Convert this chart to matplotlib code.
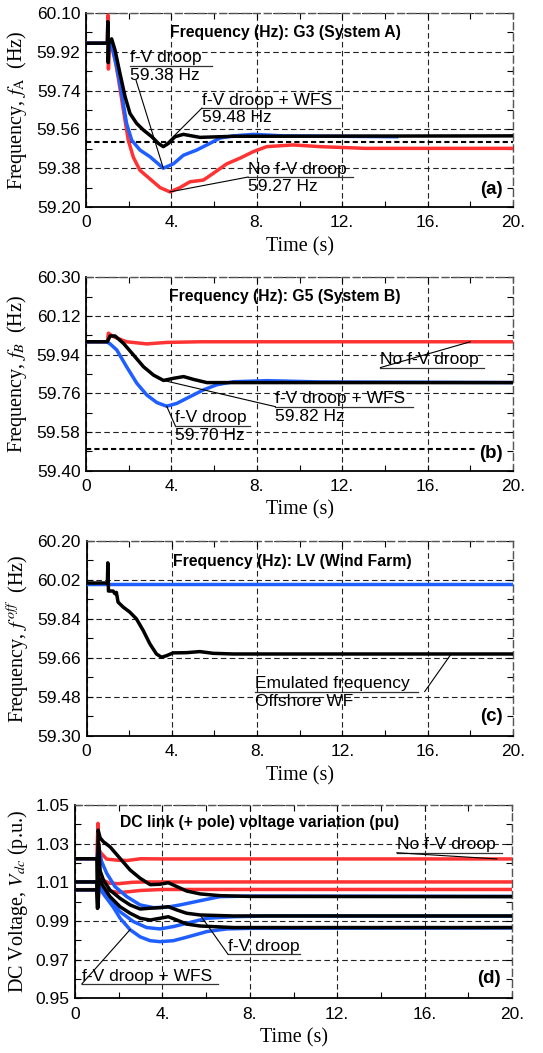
import numpy as np
import matplotlib
matplotlib.use("Agg")
import matplotlib.pyplot as plt
from matplotlib.ticker import FixedLocator, MultipleLocator, FuncFormatter

plt.rcParams['font.family'] = ['Liberation Sans', 'DejaVu Sans']
plt.rcParams['mathtext.fontset'] = 'stix'

RED = '#ff3333'
BLUE = '#1f5fff'
BLACK = '#000000'

# ---------------- (a) G3, System A ----------------
a_yticks = [59.20, 59.38, 59.56, 59.74, 59.92, 60.10]
a_limit = 59.50
a_red_t = [0, 1.0, 1.03, 1.05, 1.1, 1.28, 1.51, 1.75, 1.98, 2.22, 2.53, 3.0, 3.47, 3.93,
           4.4, 4.87, 5.5, 5.96, 6.59, 7.2, 7.84, 8.46, 9.7, 10.96, 13.1, 20.0]
a_red_f = [59.96, 59.96, 60.09, 59.84, 59.95, 59.93, 59.80, 59.65, 59.51, 59.43, 59.37, 59.33,
           59.29, 59.27, 59.29, 59.317, 59.325, 59.356, 59.40, 59.426, 59.457, 59.48, 59.488,
           59.48, 59.472, 59.472]
a_blue_t = [0, 1.16, 1.44, 1.67, 1.9, 2.14, 2.53, 3.0, 3.62, 4.09, 4.56, 5.18, 5.8, 6.28,
            6.9, 7.84, 9.24, 14.55]
a_blue_f = [59.96, 59.96, 59.85, 59.727, 59.588, 59.51, 59.464, 59.433, 59.38, 59.40, 59.44,
            59.464, 59.495, 59.52, 59.53, 59.537, 59.53, 59.526]
a_black_t = [0, 1.0, 1.02, 1.04, 1.07, 1.2, 1.36, 1.59, 1.83, 2.06, 2.37, 2.69, 3.08, 3.39,
             3.62, 3.86, 4.17, 4.56, 4.95, 5.34, 6.9, 20.0]
a_black_f = [59.96, 59.96, 60.06, 59.87, 59.96, 59.98, 59.928, 59.82, 59.712, 59.634, 59.588,
             59.557, 59.526, 59.495, 59.48, 59.495, 59.526, 59.537, 59.53, 59.523, 59.528,
             59.53]

# ---------------- (b) G5, System B ----------------
b_yticks = [59.40, 59.58, 59.76, 59.94, 60.12, 60.30]
b_limit = 59.50
b_red_t = [0, 1.0, 1.05, 1.28, 1.9, 2.85, 3.78, 5.35, 20.0]
b_red_f = [60.00, 60.00, 60.04, 60.024, 60.00, 59.99, 59.997, 60.00, 60.00]
b_blue_t = [0, 0.97, 1.13, 1.44, 1.9, 2.38, 2.85, 3.32, 3.78, 4.25, 4.88, 5.5, 6.13, 6.91,
            8.48, 10.98, 20.0]
b_blue_f = [60.00, 60.00, 59.99, 59.962, 59.884, 59.807, 59.752, 59.717, 59.70, 59.713,
            59.745, 59.776, 59.80, 59.814, 59.819, 59.813, 59.81]
b_black_t = [0, 1.0, 1.13, 1.36, 1.75, 2.22, 2.69, 3.16, 3.63, 4.1, 4.57, 5.03, 5.66, 6.91, 20.0]
b_black_f = [60.00, 60.00, 60.027, 60.027, 59.993, 59.939, 59.884, 59.845, 59.82, 59.83,
             59.838, 59.825, 59.81, 59.81, 59.81]

# ---------------- (c) LV, wind farm ----------------
c_yticks = [59.30, 59.48, 59.66, 59.84, 60.02, 60.20]
c_blue_t = [0, 20.0]
c_blue_f = [60.00, 60.00]
c_black_t = [0, 0.98, 1.0, 1.03, 1.06, 1.25, 1.33, 1.4, 1.48, 1.72, 2.03, 2.34, 2.66, 2.97,
             3.28, 3.52, 3.75, 4.06, 4.69, 5.31, 5.94, 6.88, 20.0]
c_black_f = [60.005, 60.005, 60.098, 59.968, 59.968, 59.968, 59.956, 59.962, 59.917, 59.894,
             59.871, 59.84, 59.786, 59.725, 59.678, 59.663, 59.67, 59.683, 59.684, 59.689,
             59.681, 59.678, 59.678]

# ---------------- (d) DC link voltage ----------------
d_yticks = [0.95, 0.97, 0.99, 1.01, 1.03, 1.05]
d_red = [
    ([0, 1.0, 1.05, 1.09, 1.2, 1.45, 2.0, 2.4, 3.0, 4.0, 20.0],
     [1.0221, 1.0221, 1.0405, 1.027, 1.025, 1.022, 1.0214, 1.0213, 1.0222, 1.0221, 1.0221]),
    ([0, 1.0, 1.06, 1.1, 1.3, 1.6, 2.0, 2.6, 3.2, 20.0],
     [1.0102, 1.0102, 1.0000, 1.014, 1.011, 1.0095, 1.0093, 1.0100, 1.0102, 1.0102]),
    ([0, 1.0, 1.06, 1.1, 1.4, 2.0, 2.5, 3.0, 4.0, 20.0],
     [1.0062, 1.0062, 0.999, 1.009, 1.006, 1.0047, 1.0052, 1.0058, 1.0063, 1.0063]),
]
d_blue = [
    ([0, 1.0, 1.08, 1.22, 1.45, 1.83, 2.37, 2.98, 3.59, 4.2, 4.81, 5.73, 6.64, 8.02, 20.0],
     [1.0222, 1.0222, 1.028, 1.0207, 1.0147, 1.0078, 1.0026, 0.9983, 0.9969, 0.9971, 0.9983,
      1.0005, 1.0026, 1.0029, 1.0027]),
    ([0, 1.0, 1.1, 1.22, 1.6, 2.06, 2.67, 3.28, 3.89, 4.5, 5.11, 6.03, 7.25, 8.78, 20.0],
     [1.0102, 1.0102, 1.012, 1.0078, 1.0009, 0.9948, 0.9897, 0.9866, 0.9859, 0.9871, 0.9888,
      0.9914, 0.9922, 0.9926, 0.9925]),
    ([0, 1.0, 1.12, 1.3, 1.6, 1.76, 2.06, 2.52, 2.98, 3.44, 3.89, 4.5, 5.11, 6.03, 6.95,
      8.02, 20.0],
     [1.0061, 1.0061, 1.007, 1.004, 0.9995, 0.997, 0.9915, 0.9855, 0.9818, 0.9798, 0.9793,
      0.9798, 0.9816, 0.9845, 0.9859, 0.9862, 0.9864]),
]
d_black = [
    ([0, 1.0, 1.03, 1.06, 1.15, 1.3, 1.6, 2.06, 2.52, 2.98, 3.44, 3.89, 4.27, 4.66, 5.11,
      5.73, 6.64, 8.0, 20.0],
     [1.0222, 1.0222, 0.9965, 1.037, 1.033, 1.031, 1.0284, 1.0224, 1.0164, 1.0121, 1.0088,
      1.0090, 1.0098, 1.0078, 1.0055, 1.0040, 1.0031, 1.0027, 1.0026]),
    ([0, 1.0, 1.04, 1.08, 1.15, 1.3, 1.6, 2.06, 2.52, 2.98, 3.44, 3.89, 4.27, 4.66, 5.11,
      5.73, 7.25, 20.0],
     [1.0102, 1.0102, 0.998, 1.030, 1.016, 1.0112, 1.0060, 1.0017, 0.9983, 0.9962, 0.9966,
      0.9969, 0.9974, 0.9957, 0.9940, 0.9931, 0.9926, 0.9926]),
    ([0, 1.0, 1.05, 1.1, 1.3, 1.6, 2.06, 2.52, 2.98, 3.44, 3.89, 4.27, 4.66, 5.11, 5.73,
      7.25, 20.0],
     [1.0061, 1.0061, 0.997, 1.012, 1.0078, 1.0026, 0.9974, 0.9940, 0.9914, 0.9905, 0.9914,
      0.9922, 0.9905, 0.9884, 0.9874, 0.9866, 0.9866]),
]

x_ticks = [0, 4, 8, 12, 16, 20]

LW = 2.5
FS_TICK = 12.5
FS_NOTE = 12.5


def style_axes(ax, yticks, ylabel, label_x):
    ax.set_xlim(0, 20)
    ax.set_ylim(yticks[0], yticks[-1])
    ax.xaxis.set_major_locator(FixedLocator(x_ticks))
    ax.xaxis.set_minor_locator(MultipleLocator(2))
    ax.yaxis.set_major_locator(FixedLocator(yticks))
    step = yticks[1] - yticks[0]
    ax.yaxis.set_minor_locator(FixedLocator([y + step / 2 for y in yticks[:-1]]))
    ax.xaxis.set_major_formatter(FuncFormatter(lambda v, p: '0' if v == 0 else f'{v:.0f}.'))
    ax.yaxis.set_major_formatter(FuncFormatter(lambda v, p: f'{v:.2f}'))
    ax.tick_params(which='both', direction='in', top=True, right=True,
                   labelsize=FS_TICK)
    ax.tick_params(axis='x', which='major', pad=6)
    ax.tick_params(axis='y', which='major', pad=4)
    ax.tick_params(which='major', length=4, width=0.8)
    ax.tick_params(which='minor', length=4, width=0.8)
    ax.grid(True, which='major', color='#222222', linestyle=(0, (5, 3)), linewidth=0.8)
    for side in ('left', 'bottom'):
        ax.spines[side].set_linewidth(1.3)
    for side in ('top', 'right'):
        ax.spines[side].set_linestyle((0, (5, 3)))
        ax.spines[side].set_color('#555555')
        ax.spines[side].set_linewidth(1.0)
    ax.set_xlabel('Time (s)', family='Liberation Serif', fontsize=14.5)
    ax.xaxis.set_label_coords(0.5, -0.155)
    ax.xaxis.label.set_va('top')
    ax.set_ylabel(ylabel, family='Liberation Serif', fontsize=14.5)
    ax.yaxis.set_label_coords(label_x, 0.5)


def callout(ax, x0, x1, y, lines, start=None, target=None):
    ax.plot([x0, x1], [y, y], color='#333333', lw=0.9, clip_on=False, zorder=6)
    ax.annotate(lines[0], (x0, y), xytext=(0, 2.5), textcoords='offset points',
                ha='left', va='baseline', fontsize=FS_NOTE, zorder=6)
    if len(lines) > 1:
        ax.annotate(lines[1], (x0, y), xytext=(0, -1.5), textcoords='offset points',
                    ha='left', va='top', fontsize=FS_NOTE, zorder=6)
    if target is not None:
        s = start if start is not None else (x0, y)
        ax.plot([s[0], target[0]], [s[1], target[1]], color='k', lw=0.8, zorder=6)


def panel_tag(ax, tag, y):
    ax.text(0.975, y, tag, transform=ax.transAxes, ha='right', va='center',
            fontsize=13.5, fontweight='bold', zorder=7,
            bbox=dict(facecolor='white', edgecolor='none', pad=1.5))


def title(ax, text, x, y):
    ax.text(x, y, text, transform=ax.transAxes, ha='center', va='center',
            fontsize=11.3, fontweight='bold', zorder=7)


def nadir(t, v, t_max=20.0):
    t = np.asarray(t)
    v = np.asarray(v)
    m = t <= t_max
    i = np.argmin(np.where(m, v, np.inf))
    return t[i], v[i]


fig = plt.figure(figsize=(5.43, 10.53), dpi=100)
W, H = 543.0, 1053.0

# ---- (a)
ax = fig.add_axes([86 / W, 1 - 207 / H, 427 / W, 194 / H])
ax.axhline(a_limit, color='k', lw=1.5, linestyle=(0, (2.5, 1.5)), zorder=3)
ax.plot(a_red_t, a_red_f, color=RED, lw=LW, zorder=4)
ax.plot(a_blue_t, a_blue_f, color=BLUE, lw=LW, zorder=4)
ax.plot(a_black_t, a_black_f, color=BLACK, lw=LW, zorder=5)
style_axes(ax, a_yticks, r'Frequency, $f_{\rm A}$  (Hz)', -0.133)
title(ax, 'Frequency (Hz): G3 (System A)', 0.466, 0.897)
panel_tag(ax, '(a)', 0.088)
tb, vb = nadir(a_blue_t, a_blue_f)
callout(ax, 2.06, 5.9, 59.855, ['f-V droop', f'{vb:.2f} Hz'], start=(2.34, 59.789),
        target=(tb, vb))
tk, vk = nadir(a_black_t, a_black_f)
callout(ax, 5.43, 11.9, 59.659, ['f-V droop + WFS', f'{vk:.2f} Hz'], target=(tk, vk))
tr, vr = nadir(a_red_t, a_red_f)
callout(ax, 7.59, 12.5, 59.339, ['No f-V droop', f'{vr:.2f} Hz'], target=(tr, vr))
ax.set_xlim(0, 20)
ax.set_ylim(a_yticks[0], a_yticks[-1])

# ---- (b)
ax = fig.add_axes([86 / W, 1 - 470.7 / H, 427 / W, 193.4 / H])
ax.plot([0, 19.55], [b_limit, b_limit], color='k', lw=1.5, linestyle=(0, (2.5, 1.5)), zorder=3)
ax.plot(b_red_t, b_red_f, color=RED, lw=LW, zorder=4)
ax.plot(b_blue_t, b_blue_f, color=BLUE, lw=LW, zorder=4)
ax.plot(b_black_t, b_black_f, color=BLACK, lw=LW, zorder=5)
style_axes(ax, b_yticks, r'Frequency, $f_B$  (Hz)', -0.133)
title(ax, 'Frequency (Hz): G5 (System B)', 0.466, 0.903)
panel_tag(ax, '(b)', 0.09)
callout(ax, 13.79, 18.64, 59.88, ['No f-V droop'], target=(18.0, b_red_f[-1]))
tk, vk = nadir(b_black_t, b_black_f, t_max=4.0)
callout(ax, 8.87, 15.31, 59.698, ['f-V droop + WFS', f'{vk:.2f} Hz'], target=(tk, vk))
tb, vb = nadir(b_blue_t, b_blue_f)
callout(ax, 4.18, 7.69, 59.61, ['f-V droop', f'{vb:.2f} Hz'], target=(tb, vb))
ax.set_xlim(0, 20)
ax.set_ylim(b_yticks[0], b_yticks[-1])

# ---- (c)
ax = fig.add_axes([86.5 / W, 1 - 736 / H, 426.5 / W, 195.3 / H])
ax.plot(c_blue_t, c_blue_f, color=BLUE, lw=LW, zorder=4)
ax.plot(c_black_t, c_black_f, color=BLACK, lw=LW, zorder=5)
style_axes(ax, c_yticks, r'Frequency, $f^{\,off}$  (Hz)', -0.133)
title(ax, 'Frequency (Hz): LV (Wind Farm)', 0.482, 0.892)
panel_tag(ax, '(c)', 0.099)
callout(ax, 7.89, 15.55, 59.505, ['Emulated frequency', 'Offshore WF'],
        start=(15.86, 59.505), target=(17.1, c_black_f[-1]))
ax.set_xlim(0, 20)
ax.set_ylim(c_yticks[0], c_yticks[-1])

# ---- (d)
ax = fig.add_axes([75 / W, 1 - 998.3 / H, 437 / W, 193.3 / H])
for t, v in d_red:
    ax.plot(t, v, color=RED, lw=LW, zorder=4)
for t, v in d_blue:
    ax.plot(t, v, color=BLUE, lw=LW, zorder=4)
for t, v in d_black:
    ax.plot(t, v, color=BLACK, lw=LW, zorder=5)
style_axes(ax, d_yticks, r'DC Voltage, $V_{dc}$ (p.u.)', -0.103)
title(ax, 'DC link (+ pole) voltage variation (pu)', 0.423, 0.908)
panel_tag(ax, '(d)', 0.10)
callout(ax, 14.73, 19.54, 1.0253, ['No f-V droop'], target=(19.31, d_red[0][1][-1]))
callout(ax, 7.0, 10.3, 0.9728, ['f-V droop'], target=(d_black[1][0][15], d_black[1][1][15]))
callout(ax, 0.31, 6.56, 0.9574, ['f-V droop + WFS'], target=(d_blue[2][0][7], d_blue[2][1][7]))
ax.set_xlim(0, 20)
ax.set_ylim(d_yticks[0], d_yticks[-1])

fig.savefig('out.png', dpi=100)
